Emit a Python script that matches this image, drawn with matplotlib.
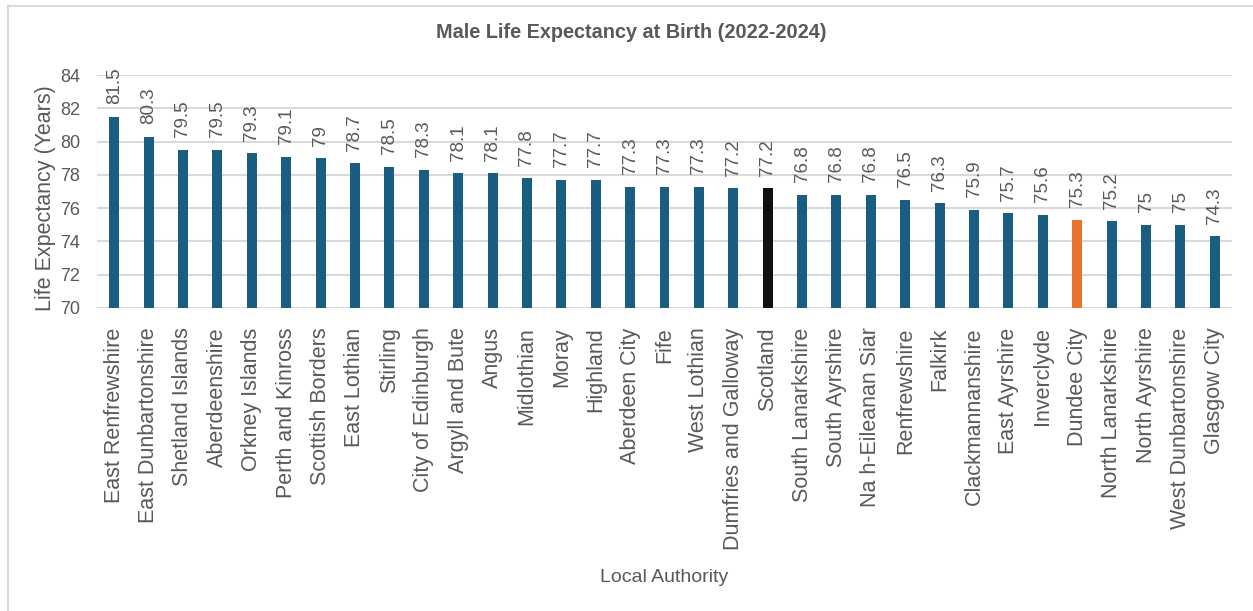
import numpy as np
import matplotlib
matplotlib.use("Agg")
import matplotlib.pyplot as plt
from matplotlib.lines import Line2D

# Data
areas = ["East Renfrewshire", "East Dunbartonshire", "Shetland Islands", "Aberdeenshire",
         "Orkney Islands", "Perth and Kinross", "Scottish Borders", "East Lothian",
         "Stirling", "City of Edinburgh", "Argyll and Bute", "Angus", "Midlothian",
         "Moray", "Highland", "Aberdeen City", "Fife", "West Lothian",
         "Dumfries and Galloway", "Scotland", "South Lanarkshire", "South Ayrshire",
         "Na h-Eileanan Siar", "Renfrewshire", "Falkirk", "Clackmannanshire",
         "East Ayrshire", "Inverclyde", "Dundee City", "North Lanarkshire",
         "North Ayrshire", "West Dunbartonshire", "Glasgow City"]
life_exp = [81.5, 80.3, 79.5, 79.5, 79.3, 79.1, 79, 78.7, 78.5, 78.3, 78.1, 78.1, 77.8,
            77.7, 77.7, 77.3, 77.3, 77.3, 77.2, 77.2, 76.8, 76.8, 76.8, 76.5, 76.3, 75.9,
            75.7, 75.6, 75.3, 75.2, 75, 75, 74.3]
y_ticks = [70, 72, 74, 76, 78, 80, 82, 84]

plt.rcParams["font.family"] = ["Liberation Sans", "DejaVu Sans"]
text_col = "#595959"
grid_col = "#D9D9D9"

def bar_colour(name):
    if name == "Scotland":
        return "#111111"
    if name == "Dundee City":
        return "#E8722F"
    return "#195E80"

W, H = 1253, 611
fig = plt.figure(figsize=(W / 100, H / 100), dpi=100)
ax = fig.add_axes([97 / W, 1 - 308 / H, 1135 / W, 233 / H])

x = np.arange(len(areas))
ax.bar(x, [v - 70 for v in life_exp], bottom=70, width=0.29,
       color=[bar_colour(a) for a in areas], zorder=3)

# Data labels
for xi, v in zip(x, life_exp):
    ax.annotate(f"{v:g}", (xi, v), xytext=(0, 9), textcoords="offset points",
                rotation=90, ha="center", va="bottom", fontsize=13.5, color=text_col)

ax.set_xlim(-0.5, len(areas) - 0.5)
ax.set_ylim(70, 84)
ax.set_yticks(y_ticks)
ax.set_xticks(x)
ax.set_xticklabels(areas, rotation=90, fontsize=15.5, color=text_col)
ax.tick_params(axis="x", length=0, pad=14)
ax.tick_params(axis="y", length=0, pad=12, labelsize=13, labelcolor=text_col)

ax.grid(axis="y", color=grid_col, linewidth=1.5, zorder=0)
for s in ax.spines.values():
    s.set_visible(False)

# Titles
fig.text(631 / W, 1 - 32 / H, "Male Life Expectancy at Birth (2022-2024)",
         ha="center", va="center", fontsize=14.3, fontweight="bold", color=text_col)
fig.text(46 / W, 1 - 198 / H, "Life Expectancy (Years)", rotation=90,
         ha="center", va="center", fontsize=15.5, color=text_col)
fig.text(664 / W, 1 - 578 / H, "Local Authority", ha="center", va="center",
         fontsize=14, color=text_col)

# Chart area border (top and left visible)
fig.add_artist(Line2D([8 / W, 1], [1 - 6 / H, 1 - 6 / H], color=grid_col, linewidth=1.5))
fig.add_artist(Line2D([8 / W, 8 / W], [0, 1 - 6 / H], color=grid_col, linewidth=1.5))

fig.savefig("out.png", dpi=100)
